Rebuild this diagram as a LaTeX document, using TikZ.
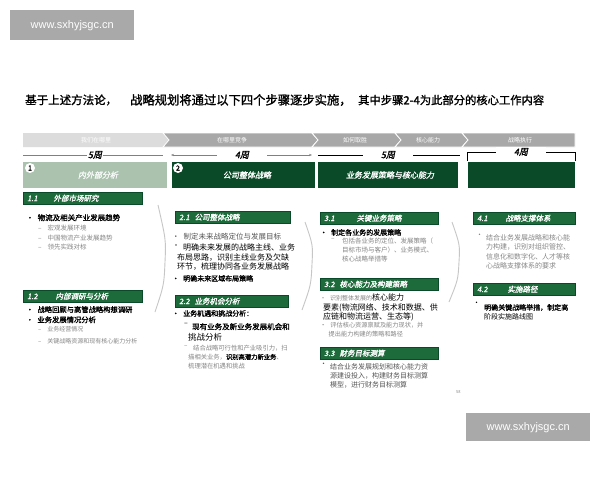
\documentclass[tikz,border=0pt]{standalone}
\usepackage{xcolor}
\usepackage{fontspec}
\setmainfont{Noto Sans CJK SC}[BoldFont={Noto Sans CJK SC}, BoldFeatures={FakeBold=1.4}, ItalicFont={Noto Sans CJK SC}, ItalicFeatures={FakeSlant=0.2}, BoldItalicFont={Noto Sans CJK SC}, BoldItalicFeatures={FakeBold=1.4,FakeSlant=0.2}]
\newfontfamily\wmfont{Liberation Sans}
\usetikzlibrary{arrows.meta,calc,positioning}
\newcommand{\setsz}[2]{\fontsize{#1}{#2}\selectfont}
\definecolor{dkgreen}{HTML}{0B4A28}
\definecolor{midgreen}{HTML}{1D6A3A}
\definecolor{paleg}{HTML}{AAC2AE}
\definecolor{chevlt}{HTML}{DCDCDC}
\definecolor{chevdk}{HTML}{A8A8A8}
\definecolor{wmgray}{HTML}{A9A9A9}
\definecolor{subgray}{HTML}{858585}
\definecolor{txtgray}{HTML}{555555}
\tikzset{
  wmark/.style={fill=wmgray, text=white, inner sep=0pt, font=\wmfont\fontsize{11}{13}\selectfont},
  chevlabel/.style={text=white, inner sep=0pt, font=\setsz{6}{8}},
  weeks/.style={fill=white, inner sep=1pt, font=\setsz{9}{11}\bfseries\itshape},
  wline/.style={gray, line width=.5pt},
  head/.style={anchor=north west, inner sep=0pt, minimum height=26pt, font=\setsz{8}{10}\bfseries\itshape, text=white},
  subbar/.style={anchor=north west, fill=midgreen, draw=dkgreen, line width=.4pt, inner xsep=4pt, inner ysep=0pt, minimum height=12pt, align=left, text=white, font=\setsz{7.5}{9}\bfseries\itshape},
  txt/.style={anchor=north west, inner sep=0pt, align=left},
  ttl/.style={anchor=west, inner sep=0pt},
  sep/.style={gray!45, line width=.9pt}
}
\begin{document}
\begin{tikzpicture}[x=1pt,y=-1pt]

    \useasboundingbox[fill=white] (0,0) rectangle (600,480);

    % Watermarks.
    \node[wmark, minimum width=124pt, minimum height=30pt, anchor=north west] (wmtop) at (10,10) {www.sxhyjsgc.cn};
    \node[wmark, minimum width=124pt, minimum height=28pt, anchor=north west] (wmbot) at (466,413) {www.sxhyjsgc.cn};

    % Title line.
    \node[ttl, font=\setsz{11.5}{13}\bfseries] (title1) at (25,100) {基于上述方法论，};
    \node[ttl, font=\setsz{12.3}{14}\bfseries] (title2) at (130,100) {战略规划将通过以下四个步骤逐步实施，};
    \node[ttl, font=\setsz{11.3}{13}\bfseries] (title3) at (358,100) {其中步骤2-4为此部分的核心工作内容};

    % Draw chevron bar.
    \fill[chevlt] (23,133) -- (163,133) -- (169,140) -- (163,147) -- (23,147) -- cycle;
    \foreach \xa/\xb in {163/312, 312/395, 395/462}
        \filldraw[fill=chevdk, draw=white, line width=.8pt] (\xa,133) -- (\xb,133) -- (\xb+6,140) -- (\xb,147) -- (\xa,147) -- (\xa+6,140) -- cycle;
    \filldraw[fill=chevdk, draw=white, line width=.8pt] (462,133) -- (575,133) -- (575,147) -- (462,147) -- (468,140) -- cycle;
    \foreach \nm/\cx/\lb in {1/96/我们在哪里, 2/232/在哪里竞争, 3/355/如何取胜, 4/428/核心能力, 5/520/战略执行}
        \node[chevlabel] (ch\nm) at (\cx,140) {\lb};

    % Draw durations.
    \node[weeks] (wk1) at (95,155) {5周};
    \node[weeks, minimum width=50pt] (wk2) at (242,155) {4周};
    \node[weeks, minimum width=50pt] (wk3) at (388,155) {5周};
    \node[weeks, minimum width=50pt] (wk4) at (521,152) {4周};
    \coordinate (w1l) at (23,155);  \coordinate (w1r) at (163,155);
    \coordinate (w2l) at (171,155); \coordinate (w2r) at (312,155);
    \coordinate (w3l) at (318,155); \coordinate (w3r) at (460,155);
    \coordinate (w4l) at (467,161); \coordinate (w4r) at (575,161);
    \draw[wline] (w1l) -- (wk1);
    \draw[wline] (wk1) -- (w1r);
    \draw[wline, {Stealth[length=3pt]}-] (w2l) -- (wk2);
    \draw[wline, -{Stealth[length=3pt]}] (wk2) -- (w2r);
    \draw[wline, black] (w3l) -- (wk3);
    \draw[wline, black] (wk3) -- (w3r);
    \draw[wline, black] (wk4) -| (w4l);
    \draw[wline, black] (wk4) -| (w4r);

    % Draw phase headers.
    \node[head, fill=paleg, minimum width=144pt] (hd1) at (23,162) {};
    \node[head, fill=dkgreen, minimum width=143pt] (hd2) at (172,162) {};
    \node[head, fill=dkgreen, minimum width=140pt] (hd3) at (318,162) {};
    \node[head, fill=dkgreen, minimum width=107pt] (hd4) at (468,162) {};
    \node[text=white!92!paleg, font=\setsz{8}{10}\bfseries\itshape] (hd1t) at (98,175) {内外部分析};
    \node[text=white, font=\setsz{8}{10}\bfseries\itshape] (hd2t) at (247,175) {公司整体战略};
    \node[text=white, font=\setsz{8}{10}\bfseries\itshape] (hd3t) at (390,175) {业务发展策略与核心能力};
    \foreach \nm/\cx in {1/30, 2/178}
        \node[circle, fill=white, inner sep=0pt, minimum size=10pt, font=\setsz{7}{9}\bfseries] (num\nm) at (\cx,168) {\nm};

    % Draw column separators.
    \draw[sep] (158,205) .. controls (166,240) .. (165,262) .. controls (164,285) .. (155,312);
    \draw[sep] (305,222) .. controls (313,245) .. (312,264) .. controls (311,285) .. (302,310);
    \draw[sep] (452,222) .. controls (460,245) .. (459,262) .. controls (458,280) .. (449,302);

    % Draw sub-headers.
    \foreach \nm/\xa/\ya/\bw/\gp/\nu/\ttl in {11/23/192/119/16/1.1/外部市场研究, 12/23/290/119/18/1.2/内部调研与分析,
            21/175/211/115/5/2.1/公司整体战略, 22/175/295/113/5/2.2/业务机会分析,
            31/320/212/118/22/3.1/关键业务策略, 32/320/278/118/5/3.2/核心能力及构建策略, 33/320/347/118/5/3.3/财务目标测算,
            41/473/212/102/18/4.1/战略支撑体系, 42/473/283/102/20/4.2/实施路径}
    {
        \pgfmathsetmacro\tw{\bw-8}
        \node[subbar, text width=\tw pt] (s\nm) at (\xa,\ya) {\nu\hspace{\gp pt}\ttl};
    }

    % Column 1 texts.
    \node[txt, font=\setsz{7.5}{9}\bfseries] (p11a) at (26,214) {•\hspace{4pt}物流及相关产业发展趋势};
    \node[txt, text=subgray, font=\setsz{6.5}{9.4}] (p11b) at (38,225)
        {–\hspace{6pt}宏观发展环境\\–\hspace{6pt}中国物流产业发展趋势\\–\hspace{6pt}领先实践对标};
    \node[txt, font=\setsz{7.3}{10.2}\bfseries] (p12a) at (26,306)
        {•\hspace{4pt}战略回顾与高管战略构想调研\\•\hspace{4pt}业务发展情况分析};
    \node[txt, text=subgray, font=\setsz{6}{8}] (p12b) at (38,326) {–\hspace{6pt}业务经营情况};
    \node[txt, text=subgray, font=\setsz{6}{8}] (p12c) at (38,338) {–\hspace{6pt}关键战略资源和现有核心能力分析};

    % Column 2 texts.
    \node[txt, text=txtgray, font=\setsz{7.5}{9}] (p21a) at (172,233) {•\hspace{4pt}制定未来战略定位与发展目标};
    \node[txt, text=txtgray, font=\setsz{8}{10}] (p21b) at (172,244) {•};
    \node[txt, font=\setsz{8}{9.2}] (p21c) at (177,244)
        {\hspace*{6pt}明确未来发展的战略主线、业务\\布局思路，识别主线业务及欠缺\\环节，梳理协同各业务发展战略};
    \node[txt, font=\setsz{7}{9}\bfseries] (p21d) at (172,275) {•\hspace{4pt}明确未来区域布局策略};
    \node[txt, font=\setsz{7}{9}\bfseries] (p22a) at (172,310) {•\hspace{4pt}业务机遇和挑战分析：};
    \node[txt, font=\setsz{7}{9}] (p22b) at (184,323) {–};
    \node[txt, font=\setsz{7.5}{9}\bfseries] (p22c) at (192,323) {现有业务及新业务发展机会和};
    \node[txt, font=\setsz{8.5}{10}] (p22d) at (188,333) {挑战分析};
    \node[txt, text=subgray, font=\setsz{6.3}{8}] (p22e) at (184,345) {–};
    \node[txt, text=subgray, font=\setsz{6.3}{8.8}] (p22f) at (188,345)
        {\hspace*{5pt}结合战略可行性和产业吸引力，扫\\描相关业务，\textcolor{black}{\bfseries 识别高潜力新业务}、\\梳理潜在机遇和挑战};

    % Column 3 texts.
    \node[txt, font=\setsz{7}{9}\bfseries] (p31a) at (320,229) {•\hspace{4pt}制定各业务的发展策略};
    \node[txt, text=subgray, font=\setsz{6.5}{8}] (p31b) at (331,238) {–};
    \node[txt, text=subgray, font=\setsz{6.5}{9.1}] (p31c) at (342,238)
        {包括各业务的定位、发展策略（\\目标市场与客户）、业务模式、\\核心战略举措等};
    \node[txt, text=subgray, font=\setsz{6}{8}] (p32a) at (320,294) {•\hspace{4pt}识别整体发展的\textcolor{black}{\setsz{8}{10}核心能力}};
    \node[txt, font=\setsz{8}{9.2}] (p32b) at (323,303)
        {要素(物流网络、技术和数据、供\\应链和物流运营、生态等)};
    \node[txt, text=subgray, font=\setsz{6.2}{9}] (p32c) at (320,322)
        {•\hspace{4pt}评估核心资源禀赋及能力现状，并\\\hspace*{8.5pt}提出能力构建的策略和路径};
    \node[txt, text=txtgray, font=\setsz{7}{9}] (p33a) at (320,363) {•};
    \node[txt, text=txtgray, font=\setsz{7}{9.1}] (p33b) at (330,363)
        {结合业务发展规划和核心能力资\\源建设投入，构建财务目标测算\\模型，进行财务目标测算};
    \node[txt, text=subgray, font=\setsz{4}{5}] (pgno) at (456,390) {58};

    % Column 4 texts.
    \node[txt, text=subgray, font=\setsz{7}{9}] (p41a) at (476,234) {•};
    \node[txt, text=subgray, font=\setsz{7}{9.45}] (p41b) at (486,234)
        {结合业务发展战略和核心能\\力构建，识别对组织管控、\\信息化和数字化、人才等核\\心战略支撑体系的要求};
    \node[txt, font=\setsz{7}{9}] (p42a) at (473,302) {•};
    \node[txt, font=\setsz{7}{9.1}] (p42b) at (484,304)
        {\bfseries 明确关键战略举措，制定高\\阶段实施路线图};

\end{tikzpicture}
\end{document}
